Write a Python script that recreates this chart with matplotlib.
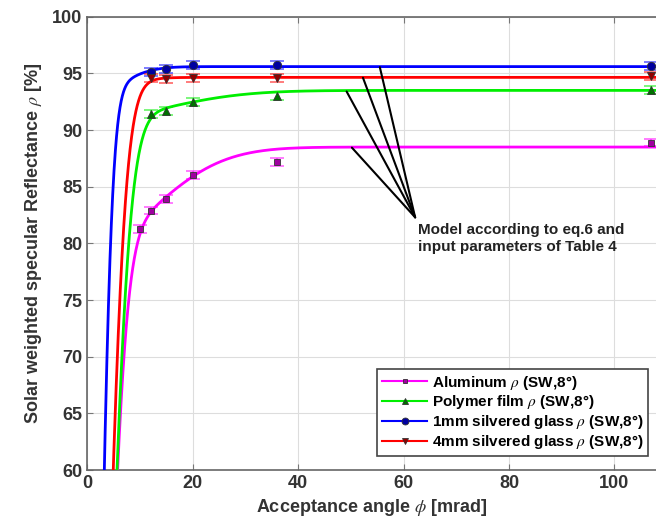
import numpy as np
import matplotlib
matplotlib.use('Agg')
import matplotlib.pyplot as plt

plt.rcParams['font.family'] = ['Liberation Sans', 'DejaVu Sans']
plt.rcParams['mathtext.fontset'] = 'stix'

# measured points (acceptance angle in mrad, reflectance in %)
alu_x = [10, 12, 15, 20, 36, 107]
alu_y = [81.3, 82.9, 83.9, 86.0, 87.2, 88.9]
poly_x = [12, 15, 20, 36, 107]
poly_y = [91.4, 91.7, 92.5, 93.0, 93.5]
g1_x = [12, 15, 20, 36, 107]
g1_y = [95.1, 95.4, 95.7, 95.7, 95.65]
g4_x = [12, 15, 20, 36, 107]
g4_y = [94.6, 94.5, 94.6, 94.6, 94.75]
err = 0.35

# model parameters (two-component specular spread): a1, s1, a2, s2
alu_model = [80.0, 3.5, 8.5, 13.0]
poly_model = [91.0, 3.85, 2.5, 15.0]
g1_model = [93.0, 2.25, 2.6, 6.0]
g4_model = [93.5, 3.45, 1.15, 6.0]

labels = ['Aluminum $\\rho$ (SW,8°)', 'Polymer film $\\rho$ (SW,8°)',
          '1mm silvered glass $\\rho$ (SW,8°)', '4mm silvered glass $\\rho$ (SW,8°)']


def model(phi, p):
    a1, s1, a2, s2 = p
    return (a1 * (1 - np.exp(-phi**2 / (2 * s1**2)))
            + a2 * (1 - np.exp(-phi**2 / (2 * s2**2))))


fig = plt.figure(figsize=(6.56, 5.28), dpi=100)
ax = fig.add_axes([0.1331, 0.1098, 0.8669, 0.8585])

phi = np.linspace(0.01, 110, 3000)
series = [
    (alu_x, alu_y, alu_model, '#ff00ff', '#a000a0', 's', 4, labels[0]),
    (poly_x, poly_y, poly_model, '#00ee00', '#007000', '^', 6, labels[1]),
    (g1_x, g1_y, g1_model, '#0000ff', '#0000a0', 'o', 6, labels[2]),
    (g4_x, g4_y, g4_model, '#ff0000', '#900000', 'v', 6, labels[3]),
]
handles = []
for xs, ys, p, c, dc, m, ms, lab in series:
    ax.plot(phi, model(phi, p), color=c, lw=2, zorder=3)
    ax.errorbar(xs, ys, yerr=err, fmt='none', ecolor=c, elinewidth=1.2,
                capsize=5, capthick=1.2, alpha=0.6, zorder=4)
    ax.plot(xs, ys, ls='none', marker=m, ms=ms, mfc=dc, mec='#333333',
            mew=0.6, zorder=5, clip_on=False)
    h, = ax.plot([], [], color=c, lw=1.5, marker=m, ms=ms - 1, mfc=dc,
                 mec='#333333', mew=0.6, label=lab)
    handles.append(h)

# annotation lines to model curves
apex = (62.2, 82.3)
for tgt in [(55.5, 95.55), (52.3, 94.62), (49.2, 93.4), (50.2, 88.45)]:
    ax.annotate('', xy=tgt, xytext=apex,
                arrowprops=dict(arrowstyle='-', color='black', lw=1.5,
                                shrinkA=0, shrinkB=0), zorder=6)
ax.text(62.7, 81.8, 'Model according to eq.6 and\ninput parameters of Table 4',
        fontsize=11, fontweight='bold', va='top', ha='left', color='#222222',
        linespacing=1.3)

ax.set_xlim(0, 107.9)
ax.set_ylim(60, 100)
ax.set_xticks([0, 20, 40, 60, 80, 100])
ax.set_yticks(np.arange(60, 101, 5))
ax.grid(True, color='#dddddd', lw=0.8)
ax.set_axisbelow(True)
ax.tick_params(direction='in', top=True, right=False, labelsize=13,
               color='#777777', length=4)
for lbl in ax.get_xticklabels() + ax.get_yticklabels():
    lbl.set_fontweight('bold')
    lbl.set_color('#333333')
for s in ['left', 'bottom', 'top']:
    ax.spines[s].set_color('#666666')
    ax.spines[s].set_linewidth(1.2)
ax.spines['right'].set_visible(False)

ax.set_xlabel('Acceptance angle $\\phi$ [mrad]', fontsize=13,
              fontweight='bold', color='#333333', labelpad=4)
ax.set_ylabel('Solar weighted specular Reflectance $\\rho$ [%]', fontsize=13,
              fontweight='bold', color='#333333', labelpad=6)

leg = ax.legend(handles=handles, loc='lower right',
                prop={'weight': 'bold', 'size': 11}, fancybox=False,
                edgecolor='#444444', framealpha=1, handlelength=3.0,
                borderpad=0.3, labelspacing=0.12, handletextpad=0.3,
                bbox_to_anchor=(1.0, 0.015))
leg.get_frame().set_linewidth(1.2)

fig.savefig('out.png', dpi=100)
